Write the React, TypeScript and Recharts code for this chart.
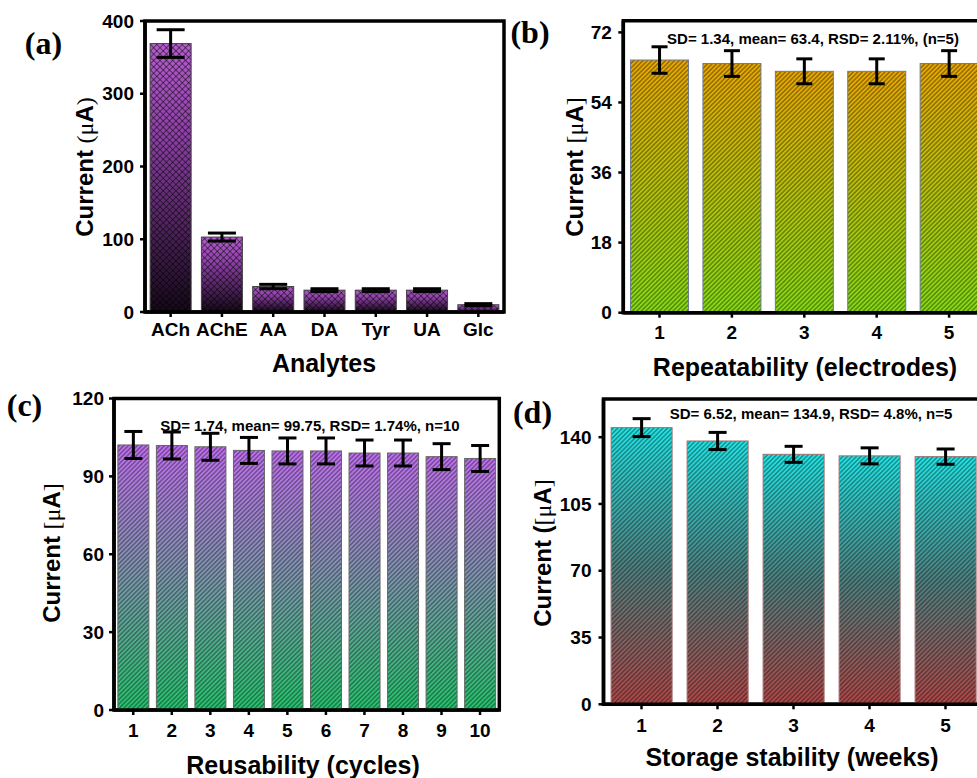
import React from 'react';
import { BarChart, Bar, XAxis, YAxis, ErrorBar, ReferenceArea } from 'recharts';

// ---------- data ----------
const analytes = ['ACh', 'AChE', 'AA', 'DA', 'Tyr', 'UA', 'Glc'];
const analyteCurrent = [369, 103, 35, 30, 30, 30, 10];
const analyteError = [19, 5.5, 3, 2, 2, 2, 1.5];
const analyteTicks = [0, 100, 200, 300, 400];

const electrodes = ['1', '2', '3', '4', '5'];
const repeatCurrent = [64.9, 64.0, 62.0, 62.0, 64.0];
const repeatError = [3.4, 3.3, 3.2, 3.2, 3.3];
const repeatTicks = [0, 18, 36, 54, 72];

const cycles = ['1', '2', '3', '4', '5', '6', '7', '8', '9', '10'];
const reuseCurrent = [102.1, 101.9, 101.4, 100.0, 99.8, 99.8, 99.0, 99.0, 97.6, 96.9];
const reuseError = [5.2, 5.2, 5.2, 5.0, 5.0, 5.0, 5.0, 5.0, 5.0, 5.0];
const reuseTicks = [0, 30, 60, 90, 120];

const weeks = ['1', '2', '3', '4', '5'];
const storageCurrent = [145, 138, 131, 130.2, 129.8];
const storageError = [4.7, 4.5, 4.2, 4.2, 4.0];
const storageTicks = [0, 35, 70, 105, 140];

const build = (cats: string[], vals: number[], errs: number[]) =>
  cats.map((c, i) => ({ name: c, value: vals[i], err: errs[i] }));

const SANS = '"Liberation Sans", Arial, sans-serif';
const SERIF = '"Liberation Serif", "Times New Roman", serif';

type PanelProps = {
  id: string;
  box: { left: number; top: number; width: number; height: number };
  margin: { top: number; right: number; bottom: number; left: number };
  data: { name: string; value: number; err: number }[];
  yMax: number;
  ticks: number[];
  stops: [string, string][];
  cross?: boolean;
  hatchSize: number;
  capWidth: number;
  barStroke: string;
  xTickMargin: number;
  yTickMargin: number;
};

function Panel(p: PanelProps) {
  const gid = `grad-${p.id}`;
  const hid = `hatch-${p.id}`;
  const s = p.hatchSize;
  const shape = (props: any) => {
    const { x, y, width, height } = props;
    if (width == null || height == null) return <g />;
    return (
      <g>
        <rect x={x} y={y} width={width} height={height} fill={`url(#${gid})`} />
        <rect x={x} y={y} width={width} height={height} fill={`url(#${hid})`} stroke={p.barStroke} strokeWidth={1} />
      </g>
    );
  };
  const first = p.data[0].name;
  const last = p.data[p.data.length - 1].name;
  const tickStyle = { fontSize: 19, fontWeight: 'bold', fill: '#000', fontFamily: SANS };
  return (
    <div style={{ position: 'absolute', left: p.box.left, top: p.box.top }}>
      <BarChart width={p.box.width} height={p.box.height} data={p.data} margin={p.margin} barCategoryGap="10%">
        <defs>
          <linearGradient id={gid} x1="0" y1="0" x2="0" y2="1">
            {p.stops.map(([off, col], i) => (
              <stop key={i} offset={off} stopColor={col} />
            ))}
          </linearGradient>
          <pattern id={hid} patternUnits="userSpaceOnUse" width={s} height={s} patternTransform="rotate(45)">
            <line x1={s / 2} y1={0} x2={s / 2} y2={s} stroke="#000" strokeWidth={p.cross ? 0.8 : 1.1} strokeOpacity={p.cross ? 0.6 : 0.5} />
            {p.cross ? (
              <line x1={0} y1={s / 2} x2={s} y2={s / 2} stroke="#000" strokeWidth={0.8} strokeOpacity={0.6} />
            ) : null}
          </pattern>
        </defs>
        <ReferenceArea x1={first} x2={last} y1={0} y2={p.yMax} fill="none" stroke="#000" strokeWidth={3.5} ifOverflow="visible" />
        <XAxis
          dataKey="name"
          type="category"
          height={30}
          interval={0}
          tickSize={5}
          tickMargin={p.xTickMargin}
          axisLine={{ stroke: '#000', strokeWidth: 3.5 }}
          tickLine={{ stroke: '#000', strokeWidth: 2.5 }}
          tick={tickStyle}
        />
        <YAxis
          type="number"
          domain={[0, p.yMax]}
          ticks={p.ticks}
          width={50}
          interval={0}
          tickSize={5}
          tickMargin={p.yTickMargin}
          axisLine={{ stroke: '#000', strokeWidth: 3.5 }}
          tickLine={{ stroke: '#000', strokeWidth: 2.5 }}
          tick={tickStyle}
          allowDataOverflow
        />
        <Bar dataKey="value" isAnimationActive={false} shape={shape}>
          <ErrorBar dataKey="err" direction="y" width={p.capWidth} strokeWidth={3} stroke="#000" />
        </Bar>
      </BarChart>
    </div>
  );
}

const abs = (x: number, y: number, extra: React.CSSProperties = {}): React.CSSProperties => ({
  position: 'absolute',
  left: x,
  top: y,
  transform: 'translate(-50%, -50%)',
  whiteSpace: 'nowrap',
  lineHeight: 1,
  color: '#000',
  ...extra,
});

const titleStyle: React.CSSProperties = { fontFamily: SANS, fontWeight: 'bold', fontSize: 25 };
const serifSpan: React.CSSProperties = { fontFamily: SERIF, fontWeight: 'normal' };
const panelLbl: React.CSSProperties = { fontFamily: SERIF, fontWeight: 'bold', fontSize: 32 };
const noteStyle: React.CSSProperties = { fontFamily: SANS, fontWeight: 'bold', fontSize: 15 };

function YTitle({ x, y, kind }: { x: number; y: number; kind: 'paren' | 'bracket' | 'mixed' }) {
  return (
    <div style={abs(x, y, { ...titleStyle, fontSize: 24, transform: 'translate(-50%, -50%) rotate(-90deg)' })}>
      {kind === 'paren' && (
        <>
          Current <span style={serifSpan}>(μ</span>A<span style={serifSpan}>)</span>
        </>
      )}
      {kind === 'bracket' && (
        <>
          Current <span style={serifSpan}>[μ</span>A<span style={serifSpan}>]</span>
        </>
      )}
      {kind === 'mixed' && (
        <>
          Current (<span style={serifSpan}>[μ</span>A<span style={serifSpan}>]</span>
        </>
      )}
    </div>
  );
}

export default function App() {
  return (
    <div style={{ position: 'absolute', left: 0, top: 0, width: 977, height: 778, overflow: 'hidden', background: '#fff' }}>
      <Panel
        id="a"
        box={{ left: 90, top: 0, width: 430, height: 345 }}
        margin={{ top: 21, right: 16, bottom: 3, left: 5 }}
        data={build(analytes, analyteCurrent, analyteError)}
        yMax={400}
        ticks={analyteTicks}
        stops={[['0%', '#b35ccc'], ['35%', '#8a3fa3'], ['100%', '#150818']]}
        cross
        hatchSize={4.5}
        capWidth={14}
        barStroke="#444"
        xTickMargin={6}
        yTickMargin={6}
      />
      <Panel
        id="b"
        box={{ left: 570, top: 0, width: 430, height: 345 }}
        margin={{ top: 20.7, right: 14.7, bottom: 2.3, left: 3.3 }}
        data={build(electrodes, repeatCurrent, repeatError)}
        yMax={75}
        ticks={repeatTicks}
        stops={[['0%', '#eaa800'], ['100%', '#86dc14']]}
        hatchSize={3.2}
        capWidth={8}
        barStroke="#6b7a99"
        xTickMargin={8}
        yTickMargin={6.5}
      />
      <Panel
        id="c"
        box={{ left: 60, top: 385, width: 460, height: 360 }}
        margin={{ top: 13.5, right: 20.7, bottom: 5, left: 4 }}
        data={build(cycles, reuseCurrent, reuseError)}
        yMax={120}
        ticks={reuseTicks}
        stops={[['0%', '#c070f0'], ['45%', '#8494b4'], ['100%', '#26c46e']]}
        hatchSize={3.2}
        capWidth={9}
        barStroke="#666"
        xTickMargin={8.5}
        yTickMargin={5}
      />
      <Panel
        id="d"
        box={{ left: 550, top: 385, width: 450, height: 360 }}
        margin={{ top: 14, right: 16.5, bottom: 10.7, left: 3.5 }}
        data={build(weeks, storageCurrent, storageError)}
        yMax={160}
        ticks={storageTicks}
        stops={[['0%', '#22e6e6'], ['50%', '#4f8282'], ['100%', '#b04848']]}
        hatchSize={3.2}
        capWidth={9}
        barStroke="#a07070"
        xTickMargin={9}
        yTickMargin={7}
      />

      {/* panel labels */}
      <div style={abs(43.5, 43, panelLbl)}>(a)</div>
      <div style={abs(530, 32, panelLbl)}>(b)</div>
      <div style={abs(24.5, 405, panelLbl)}>(c)</div>
      <div style={abs(532.5, 412, panelLbl)}>(d)</div>

      {/* axis titles */}
      <YTitle x={85} y={167} kind="paren" />
      <div style={abs(324, 363, titleStyle)}>Analytes</div>
      <YTitle x={575} y={167} kind="bracket" />
      <div style={abs(805, 367, titleStyle)}>Repeatability (electrodes)</div>
      <YTitle x={52} y={553} kind="bracket" />
      <div style={abs(303, 765, titleStyle)}>Reusability (cycles)</div>
      <YTitle x={543} y={553} kind="mixed" />
      <div style={abs(792, 757, titleStyle)}>Storage stability (weeks)</div>

      {/* annotations */}
      <div style={abs(813, 38, noteStyle)}>SD= 1.34, mean= 63.4, RSD= 2.11%, (n=5)</div>
      <div style={abs(310, 425, noteStyle)}>SD= 1.74, mean= 99.75, RSD= 1.74%, n=10</div>
      <div style={abs(811, 413, noteStyle)}>SD= 6.52, mean= 134.9, RSD= 4.8%, n=5</div>
    </div>
  );
}
